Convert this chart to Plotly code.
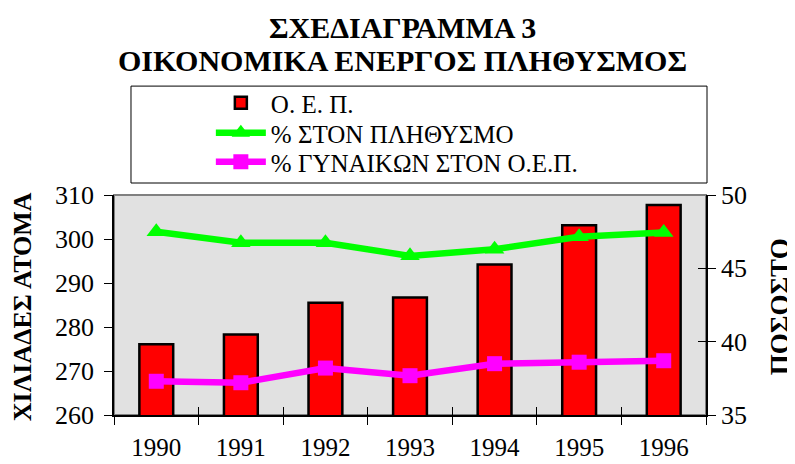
import plotly.graph_objects as go

years = ["1990", "1991", "1992", "1993", "1994", "1995", "1996"]
oep = [276.1, 278.3, 285.5, 286.7, 294.2, 303.1, 307.7]
pct_pop = [47.5, 46.75, 46.75, 45.85, 46.3, 47.15, 47.45]
pct_women = [37.3, 37.2, 38.2, 37.68, 38.5, 38.6, 38.7]

left_ticks = [260, 270, 280, 290, 300, 310]
right_ticks = [35, 40, 45, 50]

FONT = "Liberation Serif, Times New Roman, serif"
LEG_X = 0.1636

fig = go.Figure()
fig.add_trace(go.Bar(
    x=years, y=oep, name="Ο. Ε. Π.", legend="legend",
    marker=dict(color="#FF0000", line=dict(color="black", width=2.5)),
    width=0.4,
))
fig.add_trace(go.Scatter(
    x=years, y=pct_pop, name="% ΣΤΟΝ ΠΛΗΘΥΣΜΟ", yaxis="y2", legend="legend2",
    mode="lines+markers",
    line=dict(color="#00FF00", width=6.5),
    marker=dict(symbol="triangle-up", size=17, color="#00FF00"),
))
fig.add_trace(go.Scatter(
    x=years, y=pct_women, name="% ΓΥΝΑΙΚΩΝ ΣΤΟΝ Ο.Ε.Π.", yaxis="y2", legend="legend3",
    mode="lines+markers",
    line=dict(color="#FF00FF", width=6.5),
    marker=dict(symbol="square", size=15, color="#FF00FF"),
))
# invisible helper for the inside half of the crossing tick marks
fig.add_trace(go.Scatter(x=years, y=[None] * len(years), xaxis="x2", yaxis="y3",
                         showlegend=False, hoverinfo="skip", mode="markers"))


def leg(yc):
    return dict(
        x=LEG_X, y=yc, xanchor="left", yanchor="middle",
        bgcolor="rgba(0,0,0,0)", borderwidth=0,
        font=dict(family=FONT, size=25),
        tracegroupgap=0, itemwidth=50,
    )


fig.update_layout(
    template="none",
    width=787, height=456,
    margin=dict(l=106, r=89, t=187, b=49, pad=0),
    paper_bgcolor="white",
    plot_bgcolor="#E1E1E1",
    font=dict(family=FONT, color="black"),
    showlegend=True,
    bargap=0.6,
    legend=leg(1.418),
    legend2=leg(1.2818),
    legend3=leg(1.15),
    xaxis=dict(
        type="category", categoryarray=years, range=[-0.5, 6.5],
        showline=True, linecolor="black", linewidth=1.5,
        ticks="outside", ticklen=8, tickcolor="black", tickwidth=1,
        tickson="boundaries", showgrid=False, automargin=False,
        tickfont=dict(family=FONT, size=25), ticklabelstandoff=9,
    ),
    xaxis2=dict(
        type="category", categoryarray=years, range=[-0.5, 6.5],
        overlaying="x", anchor="y", side="bottom", automargin=False,
        showline=False, ticks="inside", ticklen=8, tickcolor="black", tickwidth=1,
        tickson="boundaries", showgrid=False, showticklabels=False,
    ),
    yaxis=dict(
        range=[260, 310], tickvals=left_ticks,
        showline=True, linecolor="black", linewidth=1.5,
        ticks="outside", ticklen=8, tickcolor="black", tickwidth=1,
        showgrid=False, zeroline=False, automargin=False,
        tickfont=dict(family=FONT, size=26), ticklabelstandoff=5,
    ),
    yaxis2=dict(
        range=[35, 50], tickvals=right_ticks, overlaying="y", side="right",
        showline=True, linecolor="black", linewidth=1.5,
        ticks="outside", ticklen=8, tickcolor="black", tickwidth=1,
        showgrid=False, zeroline=False, automargin=False,
        tickfont=dict(family=FONT, size=26), ticklabelstandoff=0,
    ),
    yaxis3=dict(
        range=[35, 50], tickvals=right_ticks, overlaying="y", side="right",
        anchor="x", showline=False, automargin=False,
        ticks="inside", ticklen=8, tickcolor="black", tickwidth=1,
        showgrid=False, zeroline=False, showticklabels=False,
    ),
    shapes=[
        dict(type="rect", xref="paper", yref="paper", x0=0, x1=1, y0=0, y1=1,
             line=dict(color="#808080", width=2), layer="below"),
        dict(type="rect", xref="paper", yref="paper",
             x0=0.0287, x1=1.0017, y0=1.0545, y1=1.495,
             line=dict(color="black", width=1), fillcolor="rgba(0,0,0,0)"),
    ],
    annotations=[
        dict(text="<b>ΣΧΕΔΙΑΓΡΑΜΜΑ 3</b>", xref="paper", yref="paper",
             x=0.488, y=1.7636, xanchor="center", yanchor="middle",
             showarrow=False, font=dict(family=FONT, size=30)),
        dict(text="<b>ΟΙΚΟΝΟΜΙΚΑ ΕΝΕΡΓΟΣ ΠΛΗΘΥΣΜΟΣ</b>", xref="paper", yref="paper",
             x=0.488, y=1.6136, xanchor="center", yanchor="middle",
             showarrow=False, font=dict(family=FONT, size=30)),
        dict(text="<b>ΧΙΛΙΑΔΕΣ ΑΤΟΜΑ</b>", xref="paper", yref="paper",
             x=-0.1554, y=0.49, xanchor="center", yanchor="middle", textangle=-90,
             showarrow=False, font=dict(family=FONT, size=26)),
        dict(text="<b>ΠΟΣΟΣΤΟ</b>", xref="paper", yref="paper",
             x=1.125, y=0.49, xanchor="center", yanchor="middle", textangle=-90,
             showarrow=False, font=dict(family=FONT, size=27)),
    ],
)

fig.write_html("out.html")
